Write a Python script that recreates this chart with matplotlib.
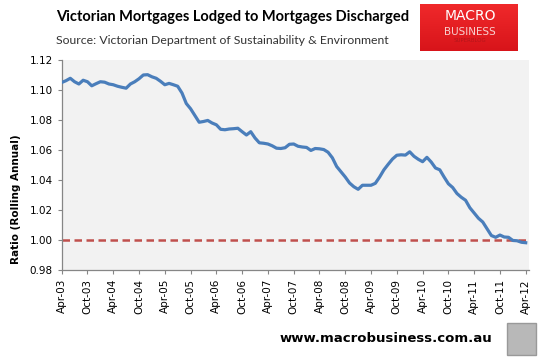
import numpy as np
import matplotlib.pyplot as plt
from matplotlib.patches import Rectangle

# monthly rolling-annual ratio, Apr-03 .. Apr-12
ratio = [1.1050, 1.1062, 1.1078, 1.1055, 1.1040, 1.1065, 1.1055, 1.1028, 1.1042, 1.1055,
         1.1052, 1.1040, 1.1035, 1.1025, 1.1018, 1.1012, 1.1040, 1.1055, 1.1075, 1.1100,
         1.1102, 1.1088, 1.1078, 1.1058, 1.1035, 1.1044, 1.1035, 1.1025, 1.0980, 1.0910,
         1.0875, 1.0830, 1.0785, 1.0790, 1.0797, 1.0780, 1.0768, 1.0738, 1.0735, 1.0740,
         1.0742, 1.0745, 1.0722, 1.0700, 1.0722, 1.0680, 1.0648, 1.0645, 1.0640, 1.0628,
         1.0612, 1.0610, 1.0615, 1.0638, 1.0640, 1.0625, 1.0620, 1.0617, 1.0597, 1.0610,
         1.0608, 1.0603, 1.0585, 1.0548, 1.0490, 1.0455, 1.0420, 1.0380, 1.0355, 1.0338,
         1.0365, 1.0365, 1.0365, 1.0378, 1.0420, 1.0468, 1.0505, 1.0540, 1.0565, 1.0568,
         1.0566, 1.0588, 1.0558, 1.0538, 1.0522, 1.0551, 1.0520, 1.0480, 1.0468, 1.0420,
         1.0375, 1.0350, 1.0310, 1.0285, 1.0265, 1.0215, 1.0180, 1.0145, 1.0120, 1.0075,
         1.0030, 1.0018, 1.0033, 1.0020, 1.0018, 0.9997, 0.9995, 0.9985, 0.9982]
parity = 1.0
tick_labels = ["Apr-03", "Oct-03", "Apr-04", "Oct-04", "Apr-05", "Oct-05", "Apr-06",
               "Oct-06", "Apr-07", "Oct-07", "Apr-08", "Oct-08", "Apr-09", "Oct-09",
               "Apr-10", "Oct-10", "Apr-11", "Oct-11", "Apr-12"]
y_ticks = [0.98, 1.00, 1.02, 1.04, 1.06, 1.08, 1.10, 1.12]

months = np.arange(len(ratio))

fig = plt.figure(figsize=(5.42, 3.64), dpi=100)
ax = fig.add_axes([0.1138, 0.2582, 0.8617, 0.5770])
ax.set_facecolor("#F2F2F2")

ax.plot(months, [parity] * len(months), color="#C0504D", lw=1.8, dashes=(3.0, 1.8), zorder=2)
ax.plot(months, ratio, color="#4A7EBB", lw=2.3, zorder=3, solid_joinstyle="round")

ax.set_xlim(0, 108.7)
ax.set_ylim(0.98, 1.12)
ax.set_yticks(y_ticks)
ax.set_yticklabels([f"{v:.2f}" for v in y_ticks])
ax.set_xticks(np.arange(0, 6 * len(tick_labels), 6))
ax.set_xticklabels(tick_labels, rotation=90)
ax.tick_params(axis="both", labelsize=7.5, length=3, width=0.8, color="#868686", pad=3.5)

for s in ["top", "right"]:
    ax.spines[s].set_visible(False)
for s in ["left", "bottom"]:
    ax.spines[s].set_color("#868686")
    ax.spines[s].set_linewidth(0.9)

fig.text(0.029, 0.4533, "Ratio (Rolling Annual)", rotation=90, fontsize=7.5,
         fontweight="bold", ha="center", va="center")

fig.text(0.103, 0.954, "Victorian Mortgages Lodged to Mortgages Discharged",
         family="Lato", fontsize=10.5, fontweight="bold", ha="left", va="center")
fig.text(0.103, 0.888, "Source: Victorian Department of Sustainability & Environment",
         family="Lato", fontsize=8.85, color="#333333", ha="left", va="center")

# logo box
logo = fig.add_axes([0.775, 0.860, 0.179, 0.129])
grad = np.linspace(0, 1, 50).reshape(-1, 1)
logo.imshow(grad, aspect="auto", cmap=plt.matplotlib.colors.LinearSegmentedColormap.from_list(
    "r", ["#F0292B", "#D8141A"]), extent=[0, 1, 0, 1], origin="upper")
logo.set_axis_off()
fig.text(0.867, 0.955, "MACRO", color="white", fontsize=10, ha="center", va="center")
fig.text(0.867, 0.913, "BUSINESS", color="#F7CFCF", fontsize=7.5, ha="center", va="center")
fig.text(0.867, 0.888, "SUPERBLOG", color="#B5151A", fontsize=4, ha="center", va="center")

fig.text(0.712, 0.069, "www.macrobusiness.com.au", fontsize=9.5, fontweight="bold",
         ha="center", va="center")

# wolf picture placeholder
fig.patches.append(Rectangle((0.936, 0.025), 0.053, 0.088, transform=fig.transFigure,
                             facecolor="#B8B8B8", edgecolor="#999999", lw=1))

fig.savefig("out.png", dpi=100)
